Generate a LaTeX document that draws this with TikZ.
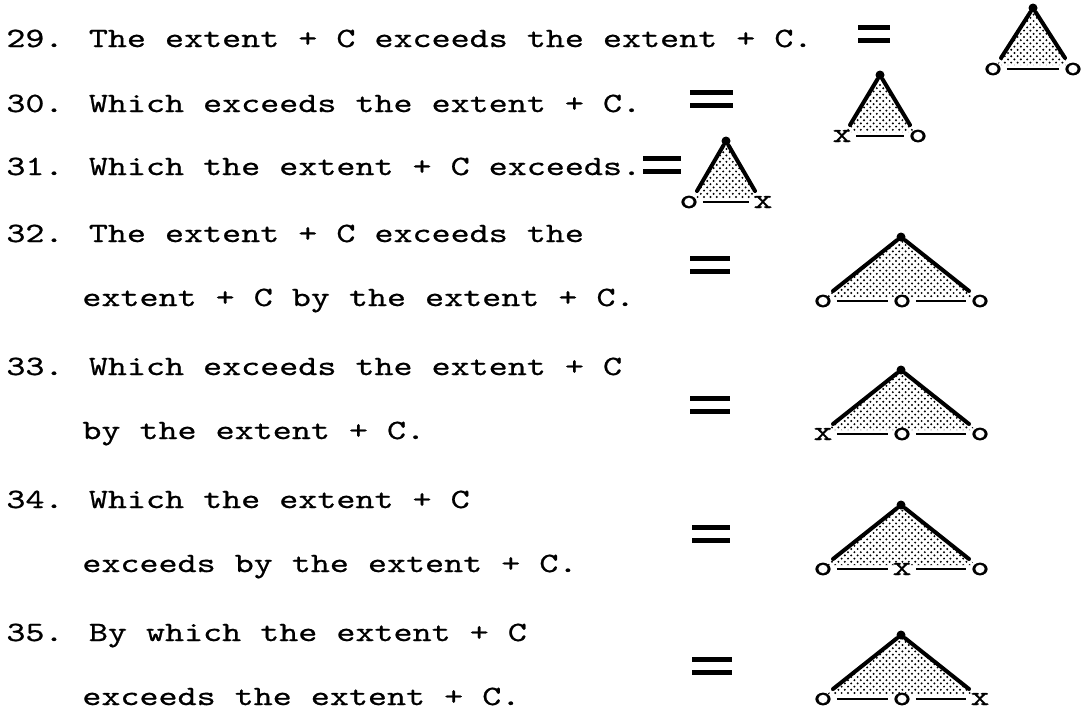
\documentclass[tikz,border=0pt]{standalone}
\usepackage{fontspec}
\usepackage{tikz}
\usetikzlibrary{patterns}
\newfontfamily\typer[FakeStretch=1.3,FakeBold=0.7]{lmmono10-regular.otf}

% stippled shading of the triangles
\pgfdeclarepatternformonly{stipple}{\pgfpoint{-0.7pt}{-0.7pt}}{\pgfpoint{2.3pt}{2.3pt}}{\pgfpoint{3.2pt}{3.2pt}}{%
    \pgfpathcircle{\pgfpoint{0pt}{0pt}}{0.55pt}%
    \pgfpathcircle{\pgfpoint{1.6pt}{1.6pt}}{0.55pt}%
    \pgfusepath{fill}}

\begin{document}
\begin{tikzpicture}[x=0.5pt, y=-0.5pt,
    typed/.style={inner sep=0pt, font=\typer\fontsize{13.95}{16}\selectfont},
    line/.style={typed, anchor=base west},
    endpt/.style={typed},
    apexdot/.style={circle, fill, inner sep=0pt, minimum size=4.5pt},
    side/.style={line width=2pt, line cap=round},
    footline/.style={line width=1.4pt, shorten <=2pt, shorten >=2pt},
    eqbar/.style={line width=2.2pt},
    shade/.style={pattern=stipple}]
    \useasboundingbox (0,0) rectangle (1086,709);

    % Typed lines
    \foreach \x/\y/\txt [count=\i] in {
        6/47/{29. The extent + C exceeds the extent + C.},
        6/112/{30. Which exceeds the extent + C.},
        6/175/{31. Which the extent + C exceeds.},
        6/242/{32. The extent + C exceeds the},
        82/306/{extent + C by the extent + C.},
        6/375/{33. Which exceeds the extent + C},
        82/439/{by the extent + C.},
        6/508/{34. Which the extent + C},
        82/572/{exceeds by the extent + C.},
        6/641/{35. By which the extent + C},
        82/705/{exceeds the extent + C.}
    } {
        \node[line] (line\i) at (\x,\y) {\txt};
    }

    % Equals signs
    \foreach \xa/\xb/\yc in {858/890/34, 690/733/99, 643/681/165,
        690/730/265, 690/730/405, 692/730/534, 692/732/666} {
        \draw[eqbar] (\xa,\yc-6.5) -- (\xb,\yc-6.5);
        \draw[eqbar] (\xa,\yc+6.5) -- (\xb,\yc+6.5);
    }

    % Small triangles
    \foreach \n/\ax/\ay/\hw/\ma/\mb in {29/1033/8/40/o/o, 30/880/75/38/x/o, 31/726/141/37/o/x} {
        \fill[shade] (\ax,\ay) -- (\ax-\hw+4,\ay+57) -- (\ax+\hw-4,\ay+57) -- cycle;
        \node[apexdot] (a\n) at (\ax,\ay) {};
        \coordinate (fl\n) at (\ax-\hw+8,\ay+50);
        \coordinate (fr\n) at (\ax+\hw-8,\ay+50);
        \draw[side] (a\n) -- (fl\n);
        \draw[side] (a\n) -- (fr\n);
        \node[endpt] (l\n) at (\ax-\hw,\ay+61) {\ma};
        \node[endpt] (r\n) at (\ax+\hw,\ay+61) {\mb};
        \draw[footline] (l\n) -- (r\n);
    }

    % Wide triangles
    \foreach \n/\ay/\ma/\mb/\mc in {32/237/o/o/o, 33/370/x/o/o, 34/505/o/x/o, 35/635/o/o/x} {
        \fill[shade] (901,\ay) -- (826,\ay+60) -- (976,\ay+60) -- cycle;
        \node[apexdot] (a\n) at (901,\ay) {};
        \coordinate (fl\n) at (833,\ay+54);
        \coordinate (fr\n) at (969,\ay+54);
        \draw[side] (a\n) -- (fl\n);
        \draw[side] (a\n) -- (fr\n);
        \node[endpt] (l\n) at (823,\ay+64) {\ma};
        \node[endpt] (m\n) at (902,\ay+64) {\mb};
        \node[endpt] (r\n) at (980,\ay+64) {\mc};
        \draw[footline] (l\n) -- (m\n);
        \draw[footline] (m\n) -- (r\n);
    }
\end{tikzpicture}
\end{document}
